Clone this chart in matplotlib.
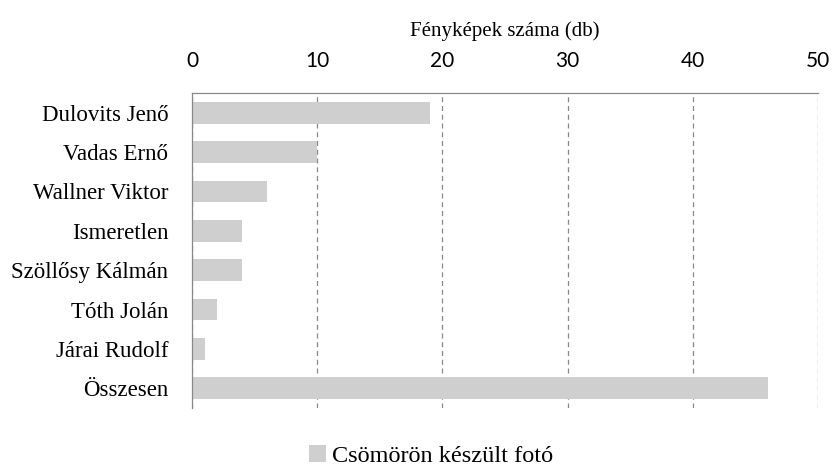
import matplotlib
matplotlib.use("Agg")
import matplotlib.pyplot as plt
from matplotlib.patches import Patch

categories = ["Dulovits Jenő", "Vadas Ernő", "Wallner Viktor", "Ismeretlen",
              "Szöllősy Kálmán", "Tóth Jolán", "Járai Rudolf", "Összesen"]
values = [19, 10, 6, 4, 4, 2, 1, 46]
xticks = [0, 10, 20, 30, 40, 50]
series_name = "Csömörön készült fotó"
axis_title = "Fényképek száma (db)"

bar_color = "#d0cfd0"
serif = ["Liberation Serif", "DejaVu Serif"]
sans = ["Lato", "DejaVu Sans"]

fig = plt.figure(figsize=(8.32, 4.67), dpi=100)
ax = fig.add_axes([192/832, 1-408/467, (818-192)/832, (408-93)/467])

ypos = list(range(len(categories)))
ax.barh(ypos, values, height=0.55, color=bar_color, zorder=2)
ax.set_ylim(7.5, -0.5)
ax.set_xlim(0, 50)
ax.set_xticks(xticks)
ax.xaxis.tick_top()
ax.xaxis.set_label_position("top")
ax.set_xlabel(axis_title, fontsize=15, family=serif, labelpad=11)
ax.set_yticks(ypos)
ax.set_yticklabels(categories, fontsize=16.5, family=serif)
for lab in ax.get_xticklabels():
    lab.set_family(sans)
    lab.set_fontsize(15)
ax.tick_params(axis="x", length=0, pad=16)
ax.tick_params(axis="y", length=0, pad=17)
ax.grid(axis="x", color="#888888", linestyle=(0, (4, 3)), linewidth=0.9, zorder=1)
for s in ["bottom", "right"]:
    ax.spines[s].set_visible(False)
for s in ["top", "left"]:
    ax.spines[s].set_color("#888888")
    ax.spines[s].set_linewidth(0.9)

handles = [Patch(facecolor=bar_color, edgecolor="none", label=series_name)]
fig.legend(handles=handles, loc="center", bbox_to_anchor=(431/832, 1-456/467),
           frameon=False, prop={"family": serif, "size": 17.5},
           handlelength=0.7, handleheight=0.7, handletextpad=0.25)

fig.savefig("out.png", dpi=100)
